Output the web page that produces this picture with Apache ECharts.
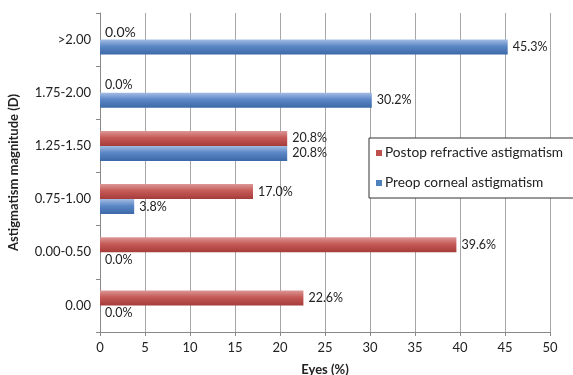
<!DOCTYPE html>
<html>
<head>
<meta charset="utf-8">
<script src="https://cdn.jsdelivr.net/npm/echarts@6/dist/echarts.min.js"></script>
<style>
  html, body { margin: 0; padding: 0; background: #fff; }
  #chart { width: 573px; height: 375px; }
</style>
</head>
<body>
<div id="chart"></div>
<script>
// Astigmatism categories, bottom to top
const categories = ['0.00', '0.00-0.50', '0.75-1.00', '1.25-1.50', '1.75-2.00', '>2.00'];
// Percent of eyes in each magnitude range
const postopRefractive = [22.6, 39.6, 17.0, 20.8, 0.0, 0.0];
const preopCorneal = [0.0, 0.0, 3.8, 20.8, 30.2, 45.3];
const xTicks = [0, 5, 10, 15, 20, 25, 30, 35, 40, 45, 50];

const FONT = 'Lato, "Open Sans", sans-serif';

const redFill = new echarts.graphic.LinearGradient(0, 0, 0, 1, [
  { offset: 0, color: '#dc9896' },
  { offset: 0.45, color: '#c55a57' },
  { offset: 1, color: '#a63c3a' }
]);
const blueFill = new echarts.graphic.LinearGradient(0, 0, 0, 1, [
  { offset: 0, color: '#a3bde3' },
  { offset: 0.45, color: '#5b87c6' },
  { offset: 1, color: '#3c68a8' }
]);

const valueLabel = {
  show: true,
  position: 'right',
  distance: 5,
  color: '#222',
  fontFamily: FONT,
  fontSize: 12.5,
  formatter: p => p.value.toFixed(1) + '%'
};

const chart = echarts.init(document.getElementById('chart'), null, { renderer: 'canvas' });
chart.setOption({
  animation: false,
  textStyle: { fontFamily: FONT },
  grid: { left: 100, right: 23, top: 13, bottom: 43, containLabel: false, outerBoundsMode: 'none' },
  legend: {
    orient: 'vertical',
    left: 369,
    top: 138,
    padding: [8, 60, 8, 7],
    itemWidth: 6,
    itemHeight: 6,
    itemGap: 16,
    icon: 'rect',
    borderColor: '#333',
    borderWidth: 1,
    backgroundColor: '#fff',
    textStyle: { fontSize: 13.7, color: '#222', fontFamily: FONT, padding: [0, 0, 0, -2] },
    data: [
      { name: 'Postop refractive astigmatism', itemStyle: { color: '#c0504d' } },
      { name: 'Preop corneal astigmatism', itemStyle: { color: '#4f81bd' } }
    ]
  },
  xAxis: {
    type: 'value',
    min: xTicks[0],
    max: xTicks[xTicks.length - 1],
    interval: 5,
    name: 'Eyes (%)',
    nameLocation: 'middle',
    nameGap: 31,
    nameTextStyle: { fontSize: 13, fontWeight: 'bold', color: '#222', fontFamily: FONT },
    axisLine: { show: true, lineStyle: { color: '#888' } },
    axisTick: { show: true, length: 4, lineStyle: { color: '#888' } },
    axisLabel: { fontSize: 13, color: '#222', margin: 9, fontFamily: FONT },
    splitLine: { show: true, lineStyle: { color: '#a6a6a6', width: 1 } }
  },
  yAxis: {
    type: 'category',
    data: categories,
    name: 'Astigmatism magnitude (D)',
    nameLocation: 'middle',
    nameGap: 80,
    nameTextStyle: { fontSize: 13, fontWeight: 'bold', color: '#222', fontFamily: FONT },
    axisLine: { show: true, lineStyle: { color: '#888' } },
    axisTick: { show: true, length: 4, lineStyle: { color: '#888' } },
    axisLabel: { fontSize: 13, color: '#222', margin: 9, fontFamily: FONT },
    splitLine: { show: false }
  },
  series: [
    {
      name: 'Postop refractive astigmatism',
      type: 'bar',
      data: postopRefractive.map((v, i) => (categories[i] === '>2.00'
        ? { value: v, label: { fontSize: 14 } }
        : v)),
      barWidth: 15,
      barGap: '0%',
      itemStyle: { color: redFill },
      label: valueLabel
    },
    {
      name: 'Preop corneal astigmatism',
      type: 'bar',
      data: preopCorneal,
      barWidth: 15,
      barGap: '0%',
      itemStyle: { color: blueFill },
      label: valueLabel
    }
  ]
});
</script>
</body>
</html>
